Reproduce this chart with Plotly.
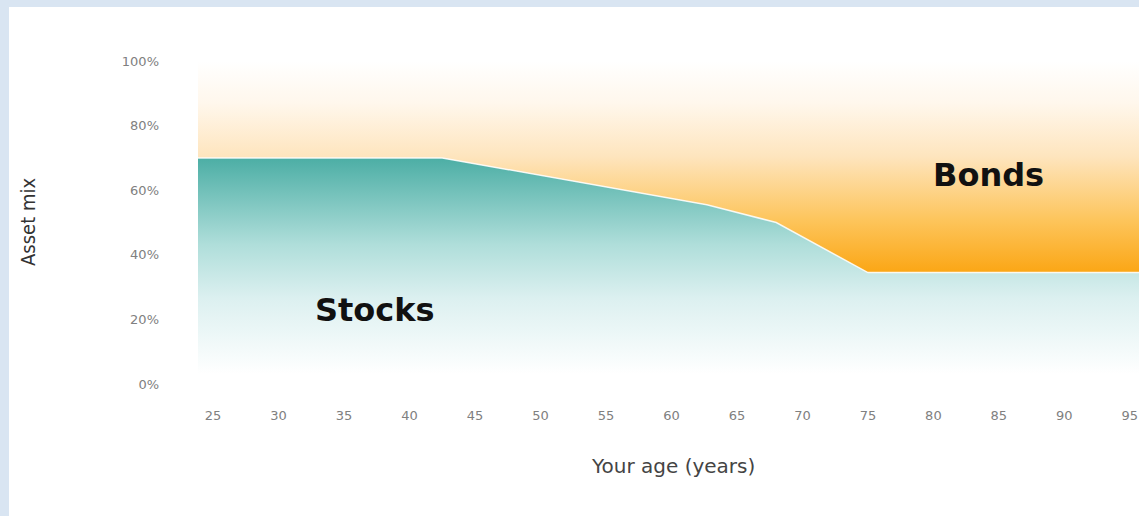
import plotly.graph_objects as go

# Data
ages = [23.85, 42.5, 62.7, 68.0, 75.0, 95.7]
stocks_pct = [70, 70, 55.5, 50, 34.5, 34.5]
total_pct = [100, 100, 100, 100, 100, 100]

x_tick_vals = [25, 30, 35, 40, 45, 50, 55, 60, 65, 70, 75, 80, 85, 90, 95]
x_tick_text = [str(v) for v in x_tick_vals]
y_tick_vals = [0, 20, 40, 60, 80, 100]
y_tick_text = ["0%", "20%", "40%", "60%", "80%", "100%"]

W, H = 1139, 516
L, R, T, B = 198, 0, 61, 132
pw, ph = W - L - R, H - T - B

def px_x(p):
    return (p - L) / pw

def px_y(p):
    return (H - B - p) / ph

fig = go.Figure()

fig.add_trace(go.Scatter(
    x=ages, y=stocks_pct, mode="lines", name="Stocks",
    line=dict(color="rgba(255,255,255,0.85)", width=1.5),
    fill="tozeroy",
    fillgradient=dict(
        type="vertical", start=3, stop=70,
        colorscale=[[0, "rgba(255,255,255,1)"], [0.35, "#dcf0f0"],
                    [0.6, "#afdeda"], [1, "#4caea5"]],
    ),
    hoverinfo="skip", showlegend=False,
))

fig.add_trace(go.Scatter(
    x=ages, y=total_pct, mode="lines", name="Bonds",
    line=dict(color="rgba(255,255,255,0)", width=0),
    fill="tonexty",
    fillgradient=dict(
        type="vertical", start=34.5, stop=100,
        colorscale=[[0, "#fba615"], [0.25, "#fdc55c"], [0.55, "#fee5be"],
                    [0.8, "#fff7ec"], [1, "rgba(255,255,255,1)"]],
    ),
    hoverinfo="skip", showlegend=False,
))

tick_font = dict(family="DejaVu Sans", size=13, color="#808080")

fig.update_layout(
    width=W, height=H,
    margin=dict(l=L, r=R, t=T, b=B, pad=0),
    paper_bgcolor="#d9e5f2",
    plot_bgcolor="rgba(0,0,0,0)",
    xaxis=dict(range=[23.85, 95.7], tickvals=x_tick_vals, ticktext=x_tick_text,
               showgrid=False, zeroline=False, showline=False,
               ticks="", ticklabelstandoff=22, tickfont=tick_font, fixedrange=True),
    yaxis=dict(range=[0, 100], tickvals=y_tick_vals, ticktext=y_tick_text,
               showgrid=False, zeroline=False, showline=False,
               ticks="", ticklabelstandoff=38, tickfont=tick_font, fixedrange=True),
    shapes=[dict(type="rect", xref="paper", yref="paper", layer="below",
                 x0=px_x(9), x1=px_x(W + 20), y0=px_y(H + 20), y1=px_y(7),
                 fillcolor="white", line=dict(width=0))],
    annotations=[
        dict(text="<b>Stocks</b>", x=37.4, y=22.9, xref="x", yref="y", showarrow=False,
             xanchor="center", yanchor="middle",
             font=dict(family="DejaVu Sans", size=32, color="#111111")),
        dict(text="<b>Bonds</b>", x=84.2, y=64.7, xref="x", yref="y", showarrow=False,
             xanchor="center", yanchor="middle",
             font=dict(family="DejaVu Sans", size=32, color="#111111")),
        dict(text="Asset mix", x=px_x(28), y=px_y(222), xref="paper", yref="paper",
             textangle=-90, showarrow=False, xanchor="center", yanchor="middle",
             font=dict(family="Liberation Sans Narrow, DejaVu Sans Condensed", size=20, color="#333333")),
        dict(text="Your age (years)", x=px_x(673), y=px_y(466), xref="paper", yref="paper",
             showarrow=False, xanchor="center", yanchor="middle",
             font=dict(family="DejaVu Sans", size=20, color="#444444")),
    ],
)

fig.write_html("out.html")
